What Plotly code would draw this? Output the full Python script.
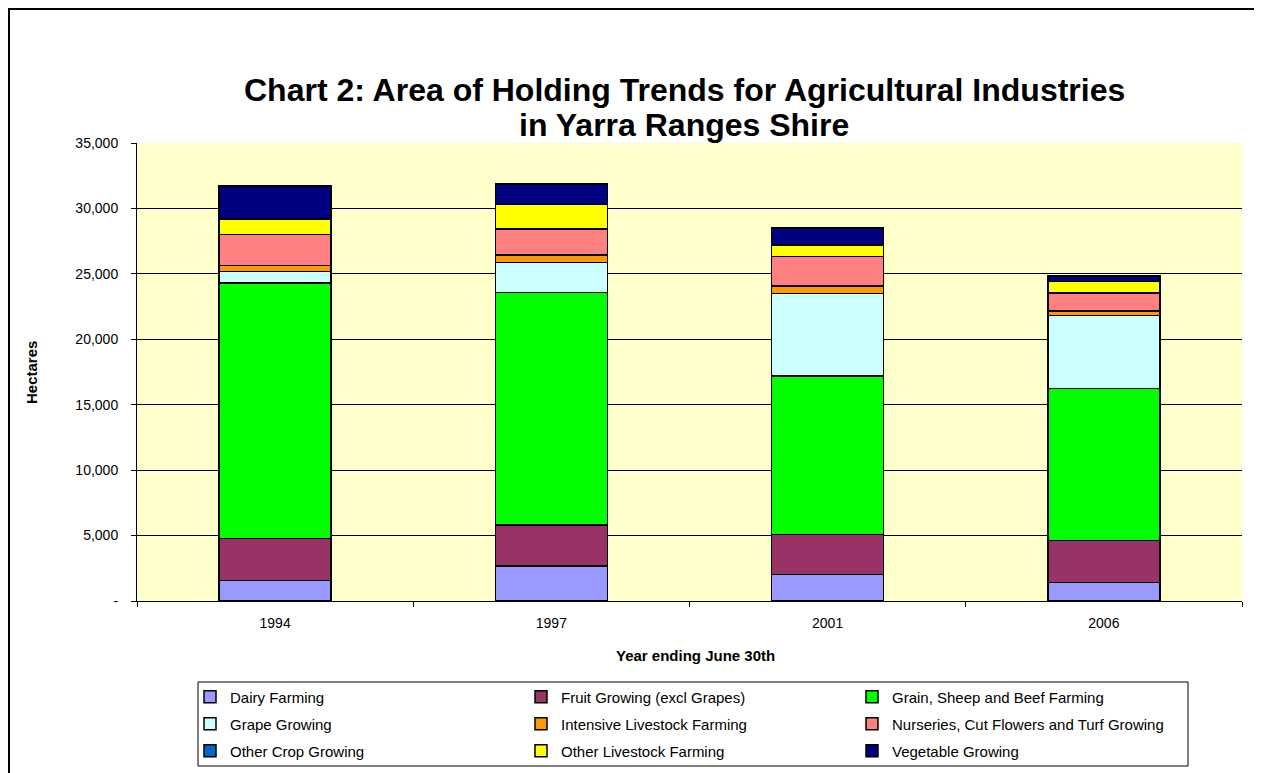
import plotly.graph_objects as go

years = ['1994', '1997', '2001', '2006']

dairy = [1550, 2670, 2010, 1400]
fruit = [3240, 3140, 3060, 3240]
grain = [19530, 17770, 12120, 11610]
grape = [870, 2270, 6320, 5570]
intensive = [460, 580, 580, 330]
nursery = [2360, 2010, 2240, 1380]
other_crop = [0, 0, 0, 0]
other_livestock = [1170, 1860, 870, 890]
vegetable = [2520, 1560, 1300, 410]

series = [
    ('Dairy Farming', dairy, '#9999FF', 'legend'),
    ('Fruit Growing (excl Grapes)', fruit, '#993366', 'legend'),
    ('Grain, Sheep and Beef Farming', grain, '#00FF00', 'legend'),
    ('Grape Growing', grape, '#CCFFFF', 'legend2'),
    ('Intensive Livestock Farming', intensive, '#FF9900', 'legend2'),
    ('Nurseries, Cut Flowers and Turf Growing', nursery, '#FF8080', 'legend2'),
    ('Other Crop Growing', other_crop, '#0066CC', 'legend3'),
    ('Other Livestock Farming', other_livestock, '#FFFF00', 'legend3'),
    ('Vegetable Growing', vegetable, '#000080', 'legend3'),
]

y_ticks = [0, 5000, 10000, 15000, 20000, 25000, 30000, 35000]
y_labels = ['-', '5,000', '10,000', '15,000', '20,000', '25,000', '30,000', '35,000']

FONT = 'Arial, Liberation Sans, sans-serif'

fig = go.Figure()
for name, vals, col, lg in series:
    fig.add_trace(go.Bar(
        x=years, y=vals, name=name, legend=lg,
        width=0.405,
        marker=dict(color=col, line=dict(color='black', width=1.5)),
    ))

# page has an 8px body margin, so the figure is offset by 8px
OFF = 8
W, H = 1262 - OFF, 773 - OFF
# plot area in page pixels: x 137..1242, y 143..601
L, R, T, B = 137, 1242, 143, 601
def px(x):
    return (x - L) / (R - L)
def py(y):
    return (B - y) / (B - T)

def row_legend(y):
    return dict(
        orientation='h', x=px(190), xanchor='left', y=py(y), yanchor='middle',
        font=dict(family=FONT, size=15, color='black'),
        entrywidth=286, entrywidthmode='pixels',
        bgcolor='rgba(0,0,0,0)', borderwidth=0, traceorder='normal',
        itemclick=False, itemdoubleclick=False,
    )

fig.update_layout(
    width=W, height=H,
    barmode='stack',
    paper_bgcolor='white',
    plot_bgcolor='#FFFFCC',
    font=dict(family=FONT, size=14, color='black'),
    margin=dict(l=L - OFF, r=1262 - R, t=T - OFF, b=773 - B, pad=0, autoexpand=False),
    xaxis=dict(
        showline=True, linecolor='black', linewidth=1,
        ticks='outside', tickson='boundaries', ticklen=5, tickcolor='black',
        tickfont=dict(size=14), ticklabelstandoff=9,
        showgrid=False,
    ),
    yaxis=dict(
        range=[0, 35000],
        tickvals=y_ticks, ticktext=y_labels,
        showline=True, linecolor='black', linewidth=1,
        ticks='outside', ticklen=5, tickcolor='black',
        showgrid=True, gridcolor='black', gridwidth=1,
        zeroline=False,
        tickfont=dict(size=14), ticklabelstandoff=10,
    ),
    showlegend=True,
    legend=row_legend(697),
    legend2=row_legend(724),
    legend3=row_legend(751),
    annotations=[
        dict(text='<b>Chart 2: Area of Holding Trends for Agricultural Industries</b>',
             xref='paper', yref='paper', x=px(684), y=py(90), xanchor='center', yanchor='middle',
             showarrow=False, font=dict(family=FONT, size=32, color='black')),
        dict(text='<b>in Yarra Ranges Shire</b>',
             xref='paper', yref='paper', x=px(684), y=py(125), xanchor='center', yanchor='middle',
             showarrow=False, font=dict(family=FONT, size=32, color='black')),
        dict(text='<b>Year ending June 30th</b>',
             xref='paper', yref='paper', x=px(695), y=py(655), xanchor='center', yanchor='middle',
             showarrow=False, font=dict(family=FONT, size=15, color='black')),
        dict(text='<b>Hectares</b>', textangle=-90,
             xref='paper', yref='paper', x=px(31), y=py(373), xanchor='center', yanchor='middle',
             showarrow=False, font=dict(family=FONT, size=15, color='black')),
    ],
    shapes=[
        # legend box
        dict(type='rect', xref='paper', yref='paper',
             x0=px(198), x1=px(1188), y0=py(766), y1=py(682),
             line=dict(color='black', width=1), fillcolor='rgba(0,0,0,0)', layer='below'),
        # outer chart border
        dict(type='rect', xref='paper', yref='paper',
             x0=px(9), x1=px(1275), y0=py(790), y1=py(9),
             line=dict(color='black', width=2), fillcolor='rgba(0,0,0,0)'),
    ],
)

fig.write_html('out.html')
